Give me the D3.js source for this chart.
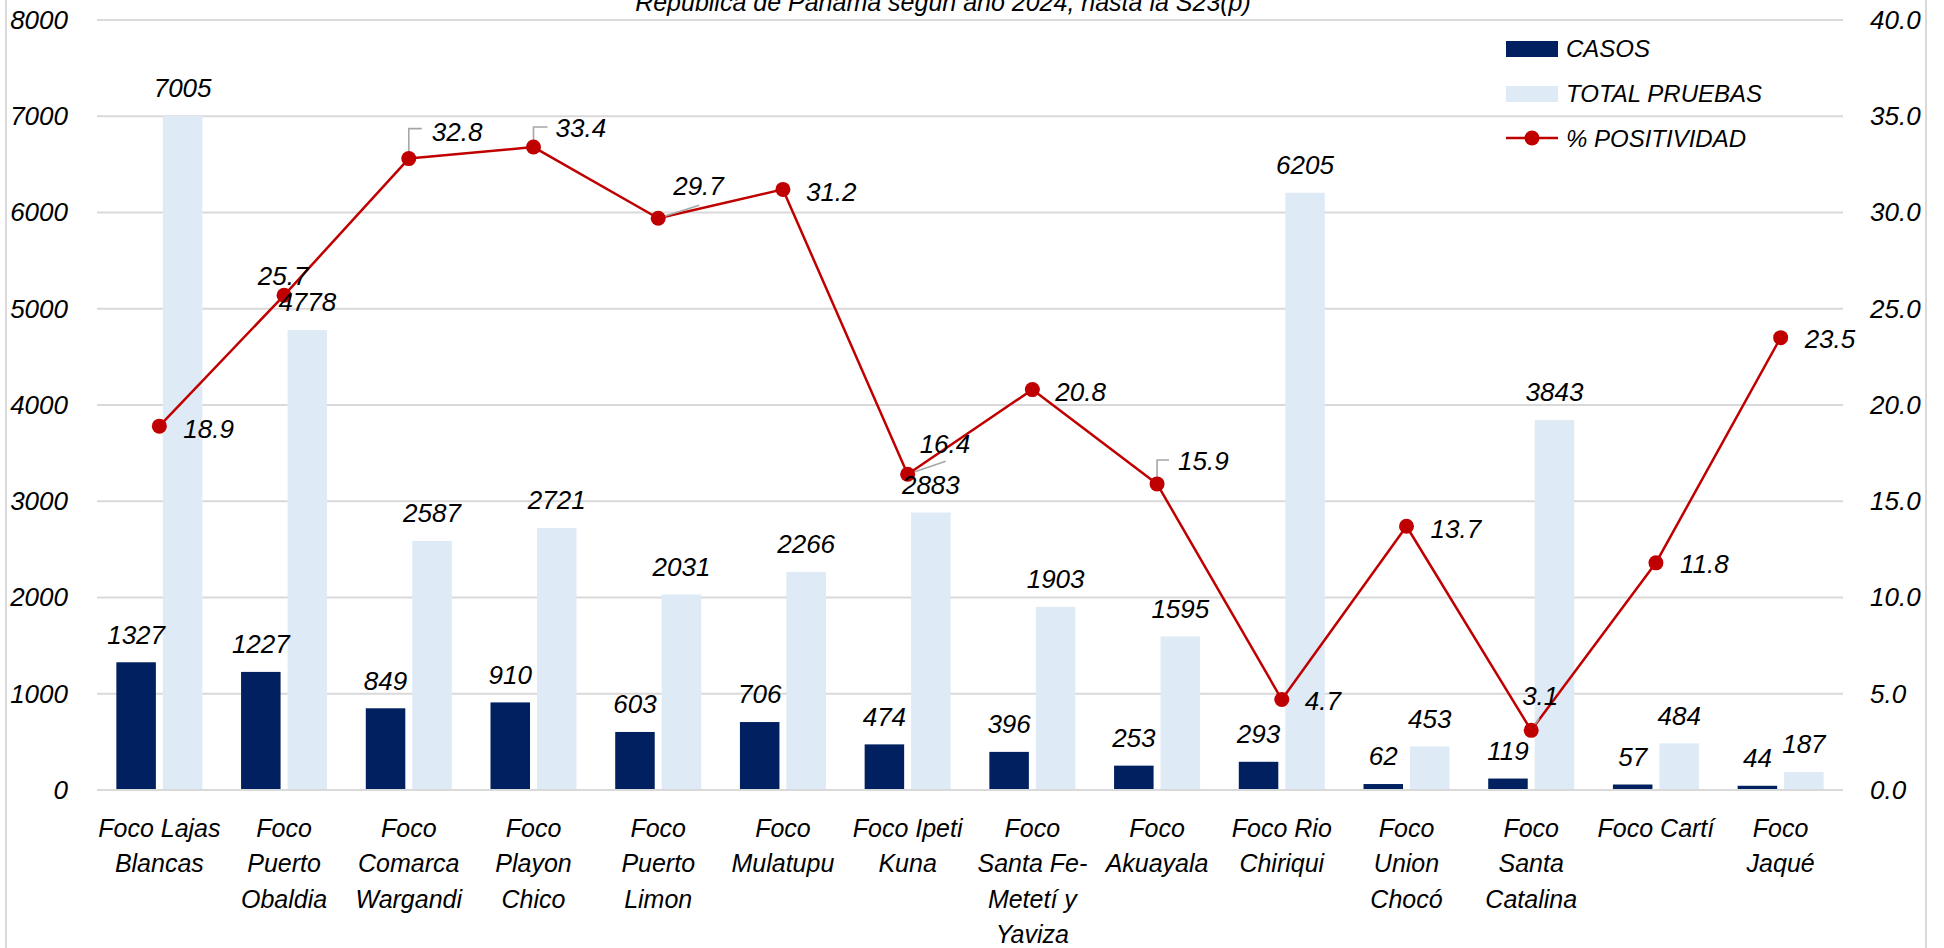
<!DOCTYPE html>
<html>
<head>
<meta charset="utf-8">
<script src="https://cdn.jsdelivr.net/npm/d3@7"></script>
<style>
  html, body { margin: 0; padding: 0; background: #ffffff; }
  svg { display: block; }
  text { font-family: "Liberation Sans", Arial, sans-serif; font-style: italic; fill: #000; }
</style>
</head>
<body>
<svg id="chart" width="1944" height="948"></svg>
<script>
// ---------------- DATA ----------------
const categories = [
  "Foco Lajas\nBlancas",
  "Foco\nPuerto\nObaldia",
  "Foco\nComarca\nWargandi",
  "Foco\nPlayon\nChico",
  "Foco\nPuerto\nLimon",
  "Foco\nMulatupu",
  "Foco Ipeti\nKuna",
  "Foco\nSanta Fe-\nMetetí y\nYaviza",
  "Foco\nAkuayala",
  "Foco Rio\nChiriqui",
  "Foco\nUnion\nChocó",
  "Foco\nSanta\nCatalina",
  "Foco Cartí",
  "Foco\nJaqué"
];
const casos = [1327, 1227, 849, 910, 603, 706, 474, 396, 253, 293, 62, 119, 57, 44];
const totalPruebas = [7005, 4778, 2587, 2721, 2031, 2266, 2883, 1903, 1595, 6205, 453, 3843, 484, 187];
const positividad = [18.9, 25.7, 32.8, 33.4, 29.7, 31.2, 16.4, 20.8, 15.9, 4.7, 13.7, 3.1, 11.8, 23.5];
const leftTicks = [0, 1000, 2000, 3000, 4000, 5000, 6000, 7000, 8000];
const rightTicks = [0, 5, 10, 15, 20, 25, 30, 35, 40];
const seriesNames = ["CASOS", "TOTAL PRUEBAS", "% POSITIVIDAD"];
const titleText = "República de Panamá según año 2024, hasta la S23(p)";

// ---------------- STYLE ----------------
const C_DARK = "#002060", C_LIGHT = "#DEEAF6", C_RED = "#C00000", C_GRID = "#D9D9D9", C_LEADER = "#A6A6A6";
// placement of the % labels relative to their point (styling, not data)
const pctPlacement = {
  0: {dx: 24, dy: 2},
  1: {dx: -1, dy: -20, anchor: "middle"},
  2: {dx: 23, dy: -27, leader: "elbow", lx: 13, ly: -30},
  3: {dx: 22, dy: -19, leader: "elbow", lx: 14, ly: -20},
  4: {dx: 15, dy: -33, leader: "line", lx: 41, ly: -13},
  5: {dx: 23, dy: 2},
  6: {dx: 12, dy: -31, leader: "line", lx: 38, ly: -13},
  7: {dx: 23, dy: 2},
  8: {dx: 21, dy: -23, leader: "elbow", lx: 12, ly: -24},
  9: {dx: 23, dy: 1},
  10: {dx: 24, dy: 2},
  11: {dx: 9, dy: -35, anchor: "middle", leader: "line", lx: 8, ly: -12},
  12: {dx: 24, dy: 1},
  13: {dx: 24, dy: 1}
};

const svg = d3.select("#chart");
const W = 1944, H = 948;
const plot = {left: 97, right: 1843, top: 20, bottom: 790};

svg.append("rect").attr("width", W).attr("height", H).attr("fill", "#fff");
// chart border sides
svg.append("line").attr("x1", 6).attr("x2", 6).attr("y1", 0).attr("y2", H).attr("stroke", C_GRID).attr("stroke-width", 2);
svg.append("line").attr("x1", 1926).attr("x2", 1926).attr("y1", 0).attr("y2", H).attr("stroke", C_GRID).attr("stroke-width", 2);

// scales
const idx = d3.range(categories.length);
const x = d3.scaleBand().domain(idx).range([plot.left, plot.right]).paddingInner(0).paddingOuter(0);
const xSub = d3.scaleBand().domain(["casos", "pruebas"]).range([-43, 43]).paddingInner(0.15);
const y = d3.scaleLinear().domain([0, 8000]).range([plot.bottom, plot.top]);
const y2 = d3.scaleLinear().domain([0, 40]).range([plot.bottom, plot.top]);

// gridlines
svg.append("g").selectAll("line").data(leftTicks.filter(d => d > 0)).join("line")
  .attr("x1", plot.left).attr("x2", plot.right)
  .attr("y1", d => y(d)).attr("y2", d => y(d))
  .attr("stroke", C_GRID).attr("stroke-width", 2);

// title (partially cut at top)
svg.append("text").attr("x", 943).attr("y", 11).attr("text-anchor", "middle")
  .style("font-size", "25px").text(titleText);

// left axis
const gL = svg.append("g").attr("transform", `translate(${plot.left},0)`)
  .call(d3.axisLeft(y).tickValues(leftTicks).tickSize(0).tickPadding(29).tickFormat(d3.format("d")));
gL.select(".domain").remove();
gL.selectAll("text").style("font-size", "26px").style("font-family", null);

// right axis
const gR = svg.append("g").attr("transform", `translate(${plot.right},0)`)
  .call(d3.axisRight(y2).tickValues(rightTicks).tickSize(0).tickPadding(27).tickFormat(d3.format(".1f")));
gR.select(".domain").remove();
gR.selectAll("text").style("font-size", "26px").style("font-family", null);

// bars
const gBars = svg.append("g");
gBars.selectAll("rect.casos").data(idx).join("rect").attr("class", "casos")
  .attr("x", i => x(i) + x.bandwidth() / 2 + xSub("casos"))
  .attr("width", xSub.bandwidth())
  .attr("y", i => y(casos[i]))
  .attr("height", i => y(0) - y(casos[i]))
  .attr("fill", C_DARK);
gBars.selectAll("rect.pruebas").data(idx).join("rect").attr("class", "pruebas")
  .attr("x", i => x(i) + x.bandwidth() / 2 + xSub("pruebas"))
  .attr("width", xSub.bandwidth())
  .attr("y", i => y(totalPruebas[i]))
  .attr("height", i => y(0) - y(totalPruebas[i]))
  .attr("fill", C_LIGHT);

// x axis line
svg.append("line").attr("x1", plot.left).attr("x2", plot.right)
  .attr("y1", plot.bottom).attr("y2", plot.bottom)
  .attr("stroke", C_GRID).attr("stroke-width", 2);

// x labels
const gX = svg.append("g");
idx.forEach(i => {
  const t = gX.append("text").attr("text-anchor", "middle").style("font-size", "25px");
  categories[i].split("\n").forEach((line, k) => {
    t.append("tspan").attr("x", x(i) + x.bandwidth() / 2).attr("y", 837 + k * 35.3).text(line);
  });
});

// line series
const px = i => x(i) + x.bandwidth() / 2;
const line = d3.line().x(i => px(i)).y(i => y2(positividad[i]));
svg.append("path").datum(idx).attr("d", line)
  .attr("fill", "none").attr("stroke", C_RED).attr("stroke-width", 2.5).attr("stroke-linejoin", "round");

// leader lines
const gLead = svg.append("g");
idx.forEach(i => {
  const p = pctPlacement[i];
  if (!p.leader) return;
  const cx = px(i), cy = y2(positividad[i]);
  if (p.leader === "elbow") {
    gLead.append("path").attr("d", `M${cx},${cy} L${cx},${cy + p.ly} L${cx + p.lx},${cy + p.ly}`)
      .attr("fill", "none").attr("stroke", C_LEADER).attr("stroke-width", 1.6);
  } else {
    gLead.append("line").attr("x1", cx).attr("y1", cy).attr("x2", cx + p.lx).attr("y2", cy + p.ly)
      .attr("stroke", C_LEADER).attr("stroke-width", 1.6);
  }
});

svg.append("g").selectAll("circle").data(idx).join("circle")
  .attr("cx", i => px(i)).attr("cy", i => y2(positividad[i])).attr("r", 7.5)
  .attr("fill", C_RED);

// bar labels
const gLab = svg.append("g");
gLab.selectAll("text.lc").data(idx).join("text").attr("class", "lc")
  .attr("x", i => px(i) + xSub("casos") + xSub.bandwidth() / 2)
  .attr("y", i => y(casos[i]) - 28).attr("dy", "0.36em")
  .attr("text-anchor", "middle").style("font-size", "26px")
  .text(i => casos[i]);
gLab.selectAll("text.lp").data(idx).join("text").attr("class", "lp")
  .attr("x", i => px(i) + xSub("pruebas") + xSub.bandwidth() / 2)
  .attr("y", i => y(totalPruebas[i]) - 28).attr("dy", "0.36em")
  .attr("text-anchor", "middle").style("font-size", "26px")
  .text(i => totalPruebas[i]);

// % labels
gLab.selectAll("text.pp").data(idx).join("text").attr("class", "pp")
  .attr("x", i => px(i) + pctPlacement[i].dx)
  .attr("y", i => y2(positividad[i]) + pctPlacement[i].dy).attr("dy", "0.36em")
  .attr("text-anchor", i => pctPlacement[i].anchor || "start")
  .style("font-size", "26px")
  .text(i => d3.format(".1f")(positividad[i]));

// legend
const lg = svg.append("g");
lg.append("rect").attr("x", 1506).attr("y", 41).attr("width", 52).attr("height", 16).attr("fill", C_DARK);
lg.append("text").attr("x", 1566).attr("y", 57).style("font-size", "24px").text(seriesNames[0]);
lg.append("rect").attr("x", 1506).attr("y", 86).attr("width", 52).attr("height", 16).attr("fill", C_LIGHT);
lg.append("text").attr("x", 1566).attr("y", 102).style("font-size", "24px").text(seriesNames[1]);
lg.append("line").attr("x1", 1506).attr("x2", 1558).attr("y1", 138).attr("y2", 138).attr("stroke", C_RED).attr("stroke-width", 2.5);
lg.append("circle").attr("cx", 1532).attr("cy", 138).attr("r", 7.5).attr("fill", C_RED);
lg.append("text").attr("x", 1566).attr("y", 147).style("font-size", "24px").text(seriesNames[2]);
</script>
</body>
</html>
